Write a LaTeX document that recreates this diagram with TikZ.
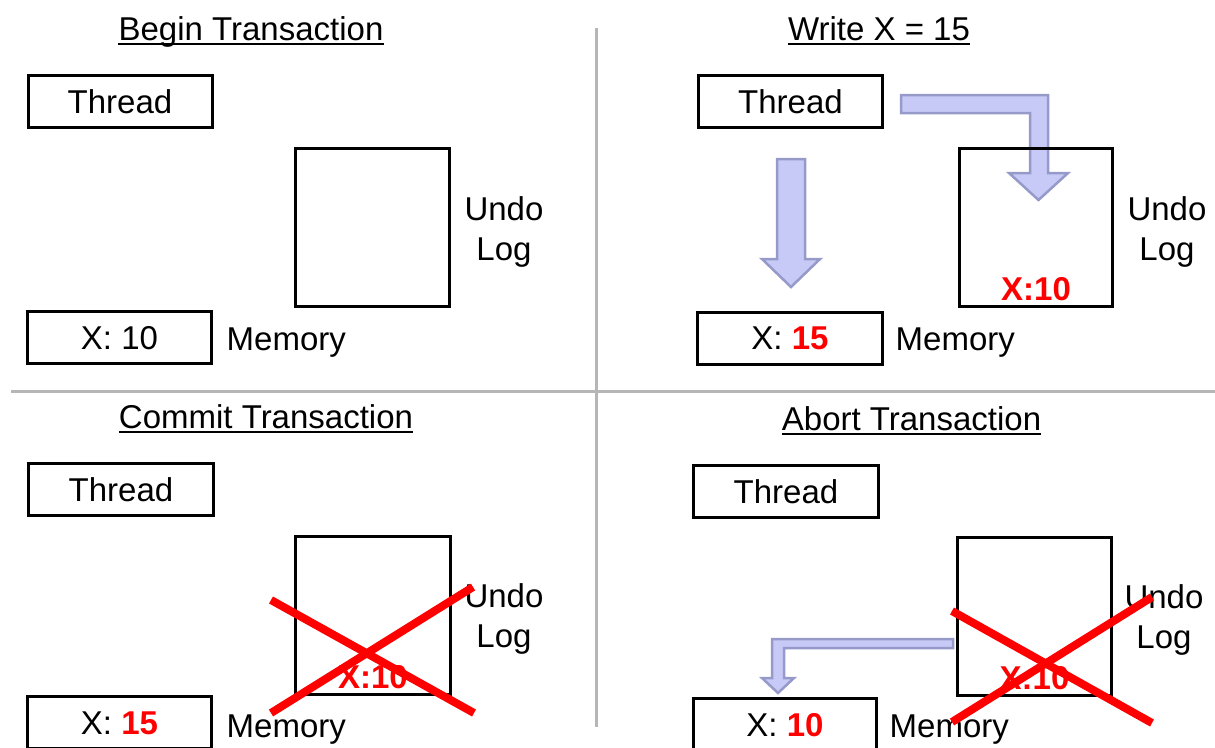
\documentclass[tikz,border=0pt]{standalone}
\usepackage{fontspec}
\setmainfont{Liberation Sans}
\definecolor{flowfill}{RGB}{199,202,247}
\definecolor{flowline}{RGB}{150,154,200}
\definecolor{rulegray}{RGB}{182,182,182}
\definecolor{hot}{RGB}{255,0,0}
\begin{document}
\begin{tikzpicture}[x=1pt,y=-1pt,
  every node/.style={inner sep=0pt, font=\fontsize{33}{39}\selectfont},
  box/.style={draw, line width=3pt, minimum width=184pt, minimum height=52pt,
    text height=23.6pt, text depth=0pt},
  logbox/.style={draw, line width=3pt, minimum width=154pt, minimum height=158pt},
  headline/.style={anchor=base},
  sidetext/.style={anchor=base},
  memtext/.style={anchor=base west},
  entry/.style={anchor=base, text=hot, font=\fontsize{33}{39}\selectfont\bfseries},
  flow/.style={fill=flowfill, draw=flowline, line width=2.5pt, line join=miter},
  strike/.style={draw=hot, line width=8pt},
  divider/.style={draw=rulegray, line width=3pt}]

\useasboundingbox (0,0) rectangle (1215,747);
\clip (0,0) rectangle (1215,747);

% quadrant dividers
\coordinate (vtop) at (596,28);
\coordinate (vbot) at (596,727);
\coordinate (hleft) at (11,391);
\coordinate (hright) at (1215,391);
\draw[divider] (vtop) -- (vbot);
\draw[divider] (hleft) -- (hright);

% ---------- Begin Transaction ----------
\node[headline] (t1) at (251,40) {Begin Transaction};
\draw[line width=2pt] ([yshift=-4pt]t1.base west) -- ([yshift=-4pt]t1.base east);
\node[box] (tl-thread) at (120,101.5) {Thread};
\node[logbox] (tl-log) at (372.5,227.5) {};
\node[sidetext] (tl-undo) at (504,220) {Undo};
\node[sidetext] (tl-lg) at (504,260) {Log};
\node[box] (tl-mem) at (119.5,337.5) {X: 10};
\node[memtext] (tl-memlbl) at (226.5,350) {Memory};

% ---------- Write X = 15 ----------
\node[headline] (t2) at (879,40) {Write X = 15};
\draw[line width=2pt] ([yshift=-4pt]t2.base west) -- ([yshift=-4pt]t2.base east);
% copy of the old value into the undo log, new value into memory
\draw[flow] (901,95) -- (1048,95) -- (1048,173) -- (1068,173) -- (1038.5,200)
  -- (1009,173) -- (1030,173) -- (1030,113) -- (901,113) -- cycle;
\draw[flow] (777,159) -- (805,159) -- (805,259) -- (820,259) -- (791,287)
  -- (762,259) -- (777,259) -- cycle;
\node[box] (tr-thread) at (790.5,101.5) {Thread};
\node[logbox, minimum width=153pt] (tr-log) at (1036,227.5) {};
\node[entry] (tr-entry) at (1036,300) {X:10};
\node[sidetext] (tr-undo) at (1167,220) {Undo};
\node[sidetext] (tr-lg) at (1167,260) {Log};
\node[box, minimum width=185pt] (tr-mem) at (790,338) {X: {\bfseries\color{hot}15}};
\node[memtext] (tr-memlbl) at (895.5,350) {Memory};

% ---------- Commit Transaction ----------
\node[headline] (t3) at (266,428) {Commit Transaction};
\draw[line width=2pt] ([yshift=-4pt]t3.base west) -- ([yshift=-4pt]t3.base east);
\node[box, minimum width=185pt] (bl-thread) at (121,489.5) {Thread};
\node[logbox, minimum width=155pt] (bl-log) at (373,615.5) {};
\node[entry] (bl-entry) at (373,688) {X:10};
\node[sidetext] (bl-undo) at (504,607) {Undo};
\node[sidetext] (bl-lg) at (504,647) {Log};
\node[box] (bl-mem) at (119.5,722.5) {X: {\bfseries\color{hot}15}};
\node[memtext] (bl-memlbl) at (226.5,737) {Memory};
% the undo log is discarded
\coordinate (bl-a1) at (271,600);
\coordinate (bl-a2) at (474,713);
\coordinate (bl-b1) at (271,713);
\coordinate (bl-b2) at (473,587);
\draw[strike] (bl-a1) -- (bl-a2);
\draw[strike] (bl-b1) -- (bl-b2);

% ---------- Abort Transaction ----------
\node[headline] (t4) at (911.5,430) {Abort Transaction};
\draw[line width=2pt] ([yshift=-4pt]t4.base west) -- ([yshift=-4pt]t4.base east);
% old value restored from the undo log
\draw[flow] (953,639) -- (772,639) -- (772,678) -- (762,678) -- (778,693)
  -- (794,678) -- (784,678) -- (784,648) -- (953,648) -- cycle;
\node[box, minimum width=185pt] (br-thread) at (786,491.5) {Thread};
\node[logbox, minimum width=154pt] (br-log) at (1034.5,616.5) {};
\node[entry] (br-entry) at (1034.5,689) {X:10};
\node[sidetext] (br-undo) at (1164,608) {Undo};
\node[sidetext] (br-lg) at (1164,648) {Log};
\node[box, minimum width=183pt] (br-mem) at (785,724.5) {X: {\bfseries\color{hot}10}};
\node[memtext] (br-memlbl) at (889.5,737) {Memory};
\coordinate (br-a1) at (952,611);
\coordinate (br-a2) at (1152,723);
\coordinate (br-b1) at (952,722);
\coordinate (br-b2) at (1152,597);
\draw[strike] (br-a1) -- (br-a2);
\draw[strike] (br-b1) -- (br-b2);
\end{tikzpicture}
\end{document}
